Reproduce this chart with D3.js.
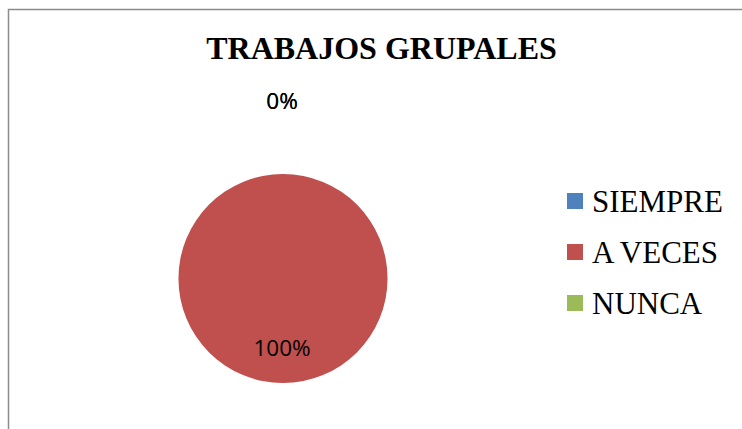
<!DOCTYPE html>
<html><head><meta charset="utf-8">
<script src="https://cdn.jsdelivr.net/npm/d3@7"></script>
<style>body{margin:0;background:#fff}svg{display:block}</style>
</head><body>
<script>
const title = "TRABAJOS GRUPALES";
const categories = ["SIEMPRE", "A VECES", "NUNCA"];
const values = [0, 100, 0];
const colors = ["#4F81BD", "#C0504D", "#9BBB59"];

const W = 742, H = 429;
const svg = d3.select("body").append("svg").attr("width", W).attr("height", H);
svg.append("rect").attr("width", W).attr("height", H).attr("fill", "#fff");
// frame
svg.append("path").attr("d", `M8.5,${H} V9.5 H${W}`).attr("fill", "none").attr("stroke", "#8c8c8c").attr("stroke-width", 1.5);

svg.append("text").attr("x", 381.5).attr("y", 59).attr("text-anchor", "middle")
  .attr("font-family", "Liberation Serif, Times New Roman, serif").attr("font-weight", "bold")
  .attr("font-size", 32).attr("fill", "#000").text(title);

const cx = 283, cy = 278.5, R = 104.5;
const total = d3.sum(values);
const pie = d3.pie().sort(null).value(d => d)(values);
const arc = d3.arc().innerRadius(0).outerRadius(R);
const g = svg.append("g").attr("transform", `translate(${cx},${cy})`);
g.selectAll("path.slice").data(pie).join("path").attr("class", "slice")
  .attr("d", arc).attr("fill", (d, i) => colors[i]);

const fmt = v => Math.round(v / total * 100) + "%";
g.selectAll("text.lbl").data(pie).join("text").attr("class", "lbl")
  .attr("text-anchor", "middle")
  .attr("font-family", "Open Sans, Liberation Sans, sans-serif").attr("font-size", 22.5)
  .attr("fill", "#000")
  .attr("transform", d => {
    const a = (d.startAngle + d.endAngle) / 2;
    const r = d.value === 0 ? 178 : 69;
    return `translate(${Math.sin(a) * r - 1},${-Math.cos(a) * r + 8})`;
  })
  .text(d => fmt(d.value));

// legend
const lg = svg.append("g");
const rows = lg.selectAll("g").data(categories).join("g")
  .attr("transform", (d, i) => `translate(567,${193 + i * 51})`);
rows.append("rect").attr("width", 16).attr("height", 16).attr("fill", (d, i) => colors[i]);
rows.append("text").attr("x", 25).attr("y", 18.5)
  .attr("font-family", "Liberation Serif, Times New Roman, serif").attr("font-size", 31)
  .attr("fill", "#000").text(d => d);
</script>
</body></html>
